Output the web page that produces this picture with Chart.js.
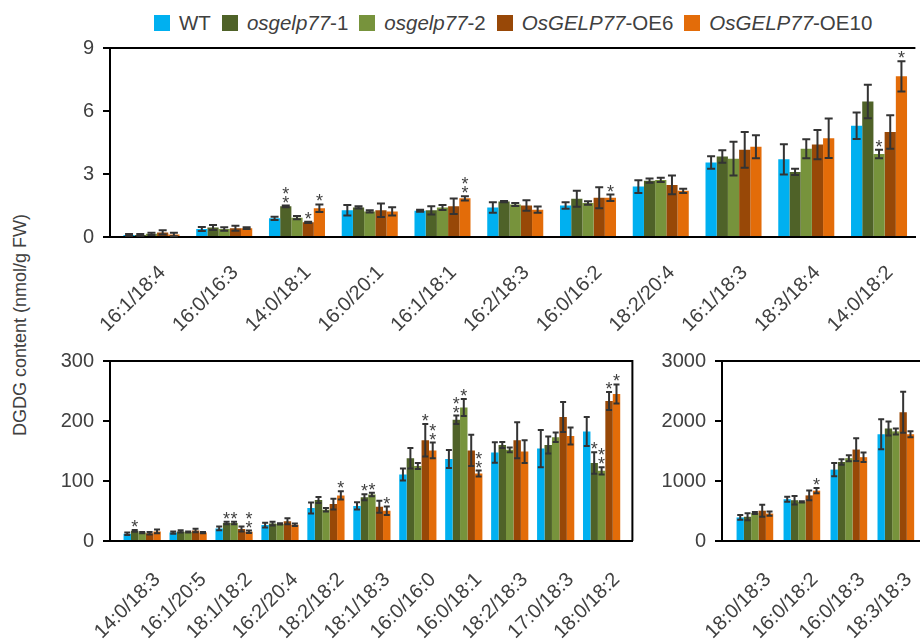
<!DOCTYPE html>
<html>
<head>
<meta charset="utf-8">
<script src="https://cdn.jsdelivr.net/npm/chart.js@4.4.1/dist/chart.umd.min.js"></script>
<style>
  html, body { margin: 0; padding: 0; background: #fff; width: 920px; height: 640px; overflow: hidden; }
  body { position: relative; font-family: "Liberation Sans", Arial, sans-serif; color: #404040; }
  canvas { position: absolute; }
  #legend { position: absolute; left: 154px; top: 11px; height: 24px; display: flex; align-items: center; white-space: nowrap; font-size: 20.5px; }
  #legend .item { display: flex; align-items: center; margin-right: 11px; }
  #legend .box { width: 16px; height: 16px; margin-right: 9px; }
  #ytitle { position: absolute; left: 20px; top: 325px; transform: translate(-50%, -50%) rotate(-90deg); white-space: nowrap; font-size: 18px; }
</style>
</head>
<body>
<div id="legend"></div>
<div id="ytitle">DGDG content (nmol/g FW)</div>
<canvas id="top" width="920" height="340" style="left:0;top:0"></canvas>
<canvas id="bl" width="646" height="300" style="left:0;top:340px"></canvas>
<canvas id="br" width="300" height="300" style="left:640px;top:340px"></canvas>
<script>
// series
var seriesNames = ['WT', 'osgelp77-1', 'osgelp77-2', 'OsGELP77-OE6', 'OsGELP77-OE10'];
var seriesItalic = ['', 'osgelp77', 'osgelp77', 'OsGELP77', 'OsGELP77'];
var seriesColors = ['#00B0F0', '#4F6228', '#77933C', '#984807', '#E36C09'];

// top panel (minor species)
var topCats = ['16:1/18:4', '16:0/16:3', '14:0/18:1', '16:0/20:1', '16:1/18:1', '16:2/18:3', '16:0/16:2', '18:2/20:4', '16:1/18:3', '18:3/18:4', '14:0/18:2'];
var topTicks = [0, 3, 6, 9];
var topWT = [0.10, 0.38, 0.89, 1.27, 1.25, 1.41, 1.50, 2.40, 3.55, 3.70, 5.30];
var topWTErr = [0.04, 0.10, 0.08, 0.25, 0.05, 0.25, 0.15, 0.30, 0.30, 0.72, 0.63];
var topKO1 = [0.10, 0.45, 1.46, 1.41, 1.27, 1.69, 1.82, 2.68, 3.83, 3.10, 6.45];
var topKO1Err = [0.04, 0.12, 0.04, 0.05, 0.20, 0.03, 0.38, 0.10, 0.30, 0.15, 0.80];
var topKO2 = [0.15, 0.38, 0.92, 1.22, 1.40, 1.55, 1.62, 2.72, 3.73, 4.20, 3.95];
var topKO2Err = [0.05, 0.08, 0.08, 0.05, 0.12, 0.07, 0.08, 0.10, 0.80, 0.45, 0.20];
var topOE6 = [0.22, 0.42, 0.70, 1.27, 1.46, 1.50, 1.87, 2.48, 4.15, 4.40, 5.00];
var topOE6Err = [0.10, 0.12, 0.03, 0.32, 0.37, 0.25, 0.50, 0.45, 0.85, 0.70, 0.80];
var topOE10 = [0.12, 0.42, 1.37, 1.22, 1.84, 1.30, 1.87, 2.20, 4.30, 4.70, 7.65];
var topOE10Err = [0.08, 0.04, 0.18, 0.20, 0.10, 0.15, 0.15, 0.10, 0.55, 0.94, 0.72];
// [category, series, number of asterisks]
var topStars = [[2, 1, 2], [2, 3, 1], [2, 4, 1], [4, 4, 2], [6, 4, 1], [10, 2, 1], [10, 4, 1]];

// bottom left panel
var blCats = ['14:0/18:3', '16:1/20:5', '18:1/18:2', '16:2/20:4', '18:2/18:2', '18:1/18:3', '16:0/16:0', '16:0/18:1', '18:2/18:3', '17:0/18:3', '18:0/18:2'];
var blTicks = [0, 100, 200, 300];
var blWT = [12, 14, 21, 26.5, 55, 58.5, 111, 136.5, 147.5, 154, 182.5];
var blWTErr = [2, 2, 3, 4, 9, 6, 10, 15, 17, 31, 24];
var blKO1 = [17, 16, 30, 29, 68.5, 73, 138, 202, 160, 160, 130];
var blKO1Err = [1.5, 2, 2, 3, 5, 5, 17, 7, 5, 14, 18];
var blKO2 = [14, 15, 30, 28.5, 52, 77.5, 125, 222.5, 152, 173, 117];
var blKO2Err = [1, 1, 2, 1, 3, 3, 5, 14, 4, 8, 6];
var blOE6 = [13, 17.5, 20, 33, 61.5, 57, 168, 151, 168, 206.5, 233.5];
var blOE6Err = [2, 3, 4, 5, 9, 10, 27, 26, 30, 25, 15];
var blOE10 = [16, 14, 15.5, 27, 76, 50.5, 151, 112.5, 149, 175, 245];
var blOE10Err = [3, 1, 2, 2, 7, 7, 13, 5, 19, 14, 16];
var blStars = [[0, 1, 1], [2, 1, 1], [2, 2, 1], [2, 4, 2], [4, 4, 1], [5, 1, 1], [5, 2, 1], [5, 4, 1],
  [6, 3, 1], [6, 4, 2], [7, 1, 2], [7, 2, 1], [7, 4, 2], [10, 1, 1], [10, 2, 2], [10, 3, 1], [10, 4, 1]];

// bottom right panel (major species)
var brCats = ['18:0/18:3', '16:0/18:2', '16:0/18:3', '18:3/18:3'];
var brTicks = [0, 1000, 2000, 3000];
var brWT = [393, 696, 1190, 1779];
var brWTErr = [40, 40, 110, 250];
var brKO1 = [404, 680, 1317, 1875];
var brKO1Err = [60, 70, 45, 115];
var brKO2 = [467, 653, 1381, 1827];
var brKO2Err = [15, 10, 50, 50];
var brOE6 = [505, 760, 1524, 2146];
var brOE6Err = [100, 80, 190, 340];
var brOE10 = [457, 839, 1397, 1779];
var brOE10Err = [35, 45, 80, 50];
var brStars = [[1, 4, 1]];

var FONT = '"Liberation Sans", Arial, sans-serif';
var TEXT = '#404040';

// legend as html so the italic part can be styled
(function buildLegend() {
  var el = document.getElementById('legend');
  seriesNames.forEach(function (name, i) {
    var it = document.createElement('span');
    it.className = 'item';
    var box = document.createElement('span');
    box.className = 'box';
    box.style.background = seriesColors[i];
    it.appendChild(box);
    var txt = document.createElement('span');
    var ital = seriesItalic[i];
    if (ital) {
      var em = document.createElement('i');
      em.textContent = ital;
      txt.appendChild(em);
      txt.appendChild(document.createTextNode(name.slice(ital.length)));
    } else {
      txt.textContent = name;
    }
    it.appendChild(txt);
    el.appendChild(it);
  });
})();

function makePanel(cfg) {
  var datasets = cfg.means.map(function (vals, s) {
    return {
      label: seriesNames[s],
      backgroundColor: seriesColors[s],
      borderWidth: 0,
      barPercentage: 1.0,
      categoryPercentage: cfg.catPct,
      data: vals.map(function (v, i) { return { x: i, y: v }; })
    };
  });

  var errPlugin = {
    id: 'errbars_' + cfg.id,
    afterDatasetsDraw: function (chart) {
      var ctx = chart.ctx;
      var y = chart.scales.y;
      ctx.save();
      ctx.strokeStyle = '#333333';
      ctx.lineWidth = 2;
      cfg.means.forEach(function (vals, s) {
        var meta = chart.getDatasetMeta(s);
        vals.forEach(function (v, i) {
          var bar = meta.data[i];
          var e = cfg.errs[s][i];
          var yt = y.getPixelForValue(v + e);
          var yb = y.getPixelForValue(Math.max(0, v - e));
          var cw = cfg.cap;
          ctx.beginPath();
          ctx.moveTo(bar.x, yt); ctx.lineTo(bar.x, yb);
          ctx.moveTo(bar.x - cw, yt); ctx.lineTo(bar.x + cw, yt);
          ctx.moveTo(bar.x - cw, yb); ctx.lineTo(bar.x + cw, yb);
          ctx.stroke();
        });
      });
      // significance asterisks
      ctx.fillStyle = '#404040';
      ctx.font = '18px ' + FONT;
      ctx.textAlign = 'center';
      ctx.textBaseline = 'alphabetic';
      cfg.stars.forEach(function (st) {
        var c = st[0], s = st[1], n = st[2];
        var bar = chart.getDatasetMeta(s).data[c];
        var top = y.getPixelForValue(cfg.means[s][c] + cfg.errs[s][c]);
        for (var k = 0; k < n; k++) {
          var cy = top - 8 - k * 9;
          ctx.fillText('*', bar.x, cy + 11);
        }
      });
      ctx.restore();
    }
  };

  var frame = {
    id: 'frame_' + cfg.id,
    afterDraw: function (chart) {
      var a = chart.chartArea;
      var ctx = chart.ctx;
      ctx.save();
      ctx.strokeStyle = '#000';
      ctx.lineWidth = 2;
      ctx.beginPath();
      ctx.moveTo(a.left - 1, a.top);
      ctx.lineTo(a.right, a.top);
      if (cfg.rightBorder) ctx.lineTo(a.right, a.bottom);
      ctx.stroke();
      ctx.restore();
    }
  };

  var cats = cfg.cats;
  return new Chart(document.getElementById(cfg.id), {
    type: 'bar',
    data: { datasets: datasets },
    plugins: [errPlugin, frame],
    options: {
      responsive: false,
      animation: false,
      events: [],
      layout: { padding: { top: cfg.padTop, right: cfg.padRight, left: 0, bottom: 0 } },
      plugins: { legend: { display: false }, tooltip: { enabled: false } },
      scales: {
        x: {
          type: 'linear',
          bounds: 'data',
          offset: false,
          min: cfg.xMin,
          max: cfg.xMax,
          grid: { display: false, drawTicks: false, offset: false },
          border: { display: true, color: '#000', width: 2 },
          afterBuildTicks: function (s) {
            s.ticks = cats.map(function (c, i) { return { value: i }; });
          },
          afterFit: function (s) { s.height = cfg.xHeight; },
          ticks: {
            autoSkip: false,
            minRotation: 45,
            maxRotation: 45,
            padding: cfg.labelPad,
            labelOffset: cfg.labelOffset,
            color: TEXT,
            font: { size: 20, family: FONT },
            callback: function (v) { return cats[v]; }
          }
        },
        y: {
          min: 0,
          max: cfg.ticks[cfg.ticks.length - 1],
          afterBuildTicks: function (s) {
            s.ticks = cfg.ticks.map(function (t) { return { value: t }; });
          },
          afterFit: function (s) { s.width = cfg.yWidth; },
          grid: { display: true, drawOnChartArea: false, drawTicks: true, tickLength: 7, color: '#000', lineWidth: 2 },
          border: { display: true, color: '#000', width: 2 },
          ticks: { color: TEXT, padding: 9, font: { size: 20, family: FONT }, callback: function (v) { return String(v); } }
        }
      }
    }
  });
}

makePanel({
  id: 'top', cats: topCats, ticks: topTicks,
  means: [topWT, topKO1, topKO2, topOE6, topOE10],
  errs: [topWTErr, topKO1Err, topKO2Err, topOE6Err, topOE10Err],
  stars: topStars,
  xMin: -0.57, xMax: 10.5, catPct: 0.77, cap: 4,
  padTop: 48, padRight: 0, yWidth: 110, xHeight: 103,
  labelPad: 24, labelOffset: 11, rightBorder: false
});

makePanel({
  id: 'bl', cats: blCats, ticks: blTicks,
  means: [blWT, blKO1, blKO2, blOE6, blOE10],
  errs: [blWTErr, blKO1Err, blKO2Err, blOE6Err, blOE10Err],
  stars: blStars,
  xMin: -0.70, xMax: 10.67, catPct: 0.81, cap: 3,
  padTop: 13, padRight: 7, yWidth: 110, xHeight: 99,
  labelPad: 27, labelOffset: 15, rightBorder: true
});

makePanel({
  id: 'br', cats: brCats, ticks: brTicks,
  means: [brWT, brKO1, brKO2, brOE6, brOE10],
  errs: [brWTErr, brKO1Err, brKO2Err, brOE6Err, brOE10Err],
  stars: brStars,
  xMin: -0.70, xMax: 3.94, catPct: 0.78, cap: 3,
  padTop: 13, padRight: 0, yWidth: 82, xHeight: 99,
  labelPad: 27, labelOffset: 13, rightBorder: false
});
</script>
</body>
</html>
